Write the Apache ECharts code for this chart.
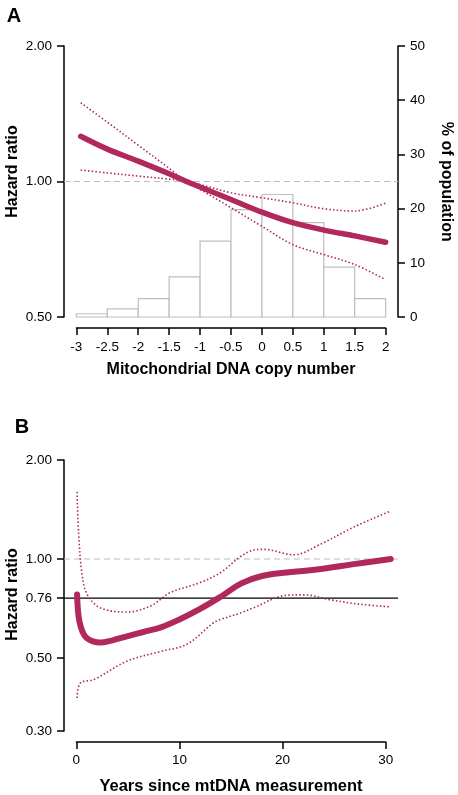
<!DOCTYPE html>
<html><head><meta charset="utf-8">
<script src="https://cdn.jsdelivr.net/npm/echarts@6/dist/echarts.min.js"></script>
<style>html,body{margin:0;padding:0;background:#fff}#c{width:458px;height:795px}</style>
</head><body><div id="c"></div>
<script>
// ---------- Panel A data ----------
const histStart = [-3, -2.5, -2, -1.5, -1, -0.5, 0, 0.5, 1, 1.5];
const histEnd   = [-2.5, -2, -1.5, -1, -0.5, 0, 0.5, 1, 1.5, 2];
const histPct   = [0.6, 1.5, 3.4, 7.4, 14.0, 19.8, 22.6, 17.4, 9.2, 3.4];
const copyX = [-2.93, -2.5, -2, -1.5, -1.22, -1, -0.5, 0, 0.5, 1, 1.5, 2];
const hrA   = [1.26, 1.18, 1.11, 1.04, 1.0, 0.972, 0.912, 0.855, 0.81, 0.78, 0.757, 0.733];
const upA   = [1.496, 1.355, 1.204, 1.07, 1.0, 0.985, 0.944, 0.92, 0.897, 0.87, 0.86, 0.895];
const loA   = [1.06, 1.045, 1.028, 1.012, 1.0, 0.96, 0.875, 0.795, 0.724, 0.688, 0.654, 0.605];
const xTicksA = [-3, -2.5, -2, -1.5, -1, -0.5, 0, 0.5, 1, 1.5, 2];
const yTicksA = [0.5, 1, 2];
const pctTicks = [0, 10, 20, 30, 40, 50];
// ---------- Panel B data ----------
const yrsMain = [0.07, 0.15, 0.3, 0.6, 1.0, 1.6, 2.3, 3.5, 4.9, 6.5, 8.2, 10, 12, 14, 16, 18, 20.4, 23.7, 26.9, 30.5];
const hrB     = [0.78, 0.70, 0.645, 0.60, 0.575, 0.562, 0.557, 0.566, 0.582, 0.60, 0.62, 0.655, 0.705, 0.768, 0.843, 0.888, 0.91, 0.932, 0.965, 1.0];
const yrsUp = [0.07, 0.22, 0.55, 1.04, 2.3, 4.9, 7.2, 9.1, 12, 14, 15.9, 17.2, 18.2, 21.1, 23.7, 26.9, 30.5];
const upB   = [1.6, 1.19, 0.9, 0.782, 0.711, 0.69, 0.72, 0.79, 0.848, 0.91, 1.016, 1.065, 1.07, 1.03, 1.11, 1.25, 1.40];
const yrsLo = [0.07, 0.39, 1.7, 4.9, 8.2, 10.7, 13.3, 14, 15.9, 17.2, 20.4, 22.1, 24.7, 27.6, 30.5];
const loB   = [0.378, 0.42, 0.43, 0.489, 0.524, 0.55, 0.64, 0.655, 0.685, 0.711, 0.776, 0.778, 0.751, 0.728, 0.715];
const xTicksB = [0, 10, 20, 30];
const yTicksB = [0.3, 0.5, 0.76, 1, 2];
const refHR = 1;
const medianHR = 0.76;

const RED = '#B0285C';
const FONT = '"Liberation Sans", Arial, sans-serif';
const pairs = (xs, ys) => xs.map((x, i) => [x, ys[i]]);

const axLine = {show: true, onZero: false, lineStyle: {color: '#000', width: 1.5}};
const axTick = {show: true, length: 7, lineStyle: {color: '#000', width: 1.5}};
const axLabel = (m) => ({color: '#000', fontSize: 13.5, fontFamily: FONT, margin: m});
const dotted = {color: RED, width: 1.6, type: [1.5, 2.2]};

const chart = echarts.init(document.getElementById('c'), null, {renderer: 'canvas'});
const option = {
  animation: false,
  backgroundColor: '#fff',
  grid: [
    {left: 64, right: 60, top: 46, height: 271},
    {left: 76.37, right: 72.37, top: 46, height: 271},
    {left: 64, right: 60, top: 460, height: 271},
    {left: 76.37, right: 72.3, top: 460, height: 271}
  ],
  xAxis: [
    {gridIndex: 0, type: 'value', min: -3.2, max: 2.2, show: false},
    {gridIndex: 1, type: 'value', min: xTicksA[0], max: xTicksA[xTicksA.length - 1], interval: 0.5,
     offset: 11, axisLine: axLine, axisTick: axTick, splitLine: {show: false},
     axisLabel: axLabel(12)},
    {gridIndex: 2, type: 'value', min: -1.2, max: 31.2, show: false},
    {gridIndex: 3, type: 'value', min: xTicksB[0], max: xTicksB[xTicksB.length - 1], interval: 10,
     offset: 11, axisLine: axLine, axisTick: axTick, splitLine: {show: false},
     axisLabel: axLabel(11)}
  ],
  yAxis: [
    {gridIndex: 0, type: 'log', logBase: 2, min: yTicksA[0], max: yTicksA[yTicksA.length - 1], position: 'left',
     axisLine: axLine, axisTick: Object.assign({}, axTick, {customValues: yTicksA}), splitLine: {show: false},
     minorTick: {show: false},
     axisLabel: Object.assign(axLabel(12), {customValues: yTicksA, formatter: v => Number(v).toFixed(2)})},
    {gridIndex: 0, type: 'value', min: pctTicks[0], max: pctTicks[pctTicks.length - 1], interval: 10, position: 'right',
     axisLine: axLine, axisTick: axTick, splitLine: {show: false}, axisLabel: axLabel(12)},
    {gridIndex: 1, type: 'value', show: false},
    {gridIndex: 2, type: 'log', logBase: 10, min: yTicksB[0], max: yTicksB[yTicksB.length - 1], position: 'left',
     axisLine: axLine, axisTick: Object.assign({}, axTick, {customValues: yTicksB}), splitLine: {show: false},
     axisLabel: Object.assign(axLabel(12), {customValues: yTicksB, formatter: v => Number(v).toFixed(2)})},
    {gridIndex: 3, type: 'value', show: false}
  ],
  series: [
    {type: 'custom', xAxisIndex: 0, yAxisIndex: 1, silent: true, z: 1,
     data: histStart.map((s, i) => [s, histEnd[i], histPct[i]]),
     encode: {x: [0, 1], y: 2},
     renderItem: (params, api) => {
       const p0 = api.coord([api.value(0), api.value(2)]);
       const p1 = api.coord([api.value(1), 0]);
       return {type: 'rect', shape: {x: p0[0], y: p0[1], width: p1[0] - p0[0], height: p1[1] - p0[1]},
               style: {fill: '#fff', stroke: '#BEBEBE', lineWidth: 1.2}};
     }},
    {type: 'line', xAxisIndex: 0, yAxisIndex: 0, symbol: 'none', z: 2,
     data: [[-3.2, refHR], [2.2, refHR]], lineStyle: {color: '#BDBDBD', width: 1.2, type: [6, 4]}},
    {type: 'line', xAxisIndex: 0, yAxisIndex: 0, symbol: 'none', z: 3, smooth: 0.35,
     data: pairs(copyX, upA), lineStyle: dotted},
    {type: 'line', xAxisIndex: 0, yAxisIndex: 0, symbol: 'none', z: 3, smooth: 0.35,
     data: pairs(copyX, loA), lineStyle: dotted},
    {type: 'line', xAxisIndex: 0, yAxisIndex: 0, symbol: 'none', z: 4, smooth: 0.35,
     data: pairs(copyX, hrA), lineStyle: {color: RED, width: 5.5, cap: 'round'}},

    {type: 'line', xAxisIndex: 2, yAxisIndex: 3, symbol: 'none', z: 2,
     data: [[-1.2, refHR], [31.2, refHR]], lineStyle: {color: '#BDBDBD', width: 1.2, type: [6, 4]}},
    {type: 'line', xAxisIndex: 2, yAxisIndex: 3, symbol: 'none', z: 2,
     data: [[-1.2, medianHR], [31.2, medianHR]], lineStyle: {color: '#000', width: 1.3}},
    {type: 'line', xAxisIndex: 2, yAxisIndex: 3, symbol: 'none', z: 3, smooth: 0.35,
     data: pairs(yrsUp, upB), lineStyle: dotted},
    {type: 'line', xAxisIndex: 2, yAxisIndex: 3, symbol: 'none', z: 3, smooth: 0.35,
     data: pairs(yrsLo, loB), lineStyle: dotted},
    {type: 'line', xAxisIndex: 2, yAxisIndex: 3, symbol: 'none', z: 4, smooth: 0.4,
     data: pairs(yrsMain, hrB), lineStyle: {color: RED, width: 6, cap: 'round'}}
  ],
  graphic: [
    {type: 'text', x: 14, y: 16, style: {text: 'A', font: 'bold 20px ' + FONT, textAlign: 'center', textVerticalAlign: 'middle', fill: '#000'}},
    {type: 'text', x: 22, y: 427, style: {text: 'B', font: 'bold 20px ' + FONT, textAlign: 'center', textVerticalAlign: 'middle', fill: '#000'}},
    {type: 'text', x: 12.5, y: 171.5, rotation: Math.PI / 2, style: {text: 'Hazard ratio', font: 'bold 16px ' + FONT, textAlign: 'center', textVerticalAlign: 'middle', fill: '#000'}},
    {type: 'text', x: 446.5, y: 181.7, rotation: -Math.PI / 2, style: {text: '% of population', font: 'bold 16px ' + FONT, textAlign: 'center', textVerticalAlign: 'middle', fill: '#000'}},
    {type: 'text', x: 231, y: 370, style: {text: 'Mitochondrial DNA copy number', font: 'bold 16px ' + FONT, textAlign: 'center', textVerticalAlign: 'middle', fill: '#000'}},
    {type: 'text', x: 12.5, y: 594.5, rotation: Math.PI / 2, style: {text: 'Hazard ratio', font: 'bold 16px ' + FONT, textAlign: 'center', textVerticalAlign: 'middle', fill: '#000'}},
    {type: 'text', x: 231, y: 786, style: {text: 'Years since mtDNA measurement', font: 'bold 16.5px ' + FONT, textAlign: 'center', textVerticalAlign: 'middle', fill: '#000'}}
  ]
};
chart.setOption(option);
</script>
</body></html>
